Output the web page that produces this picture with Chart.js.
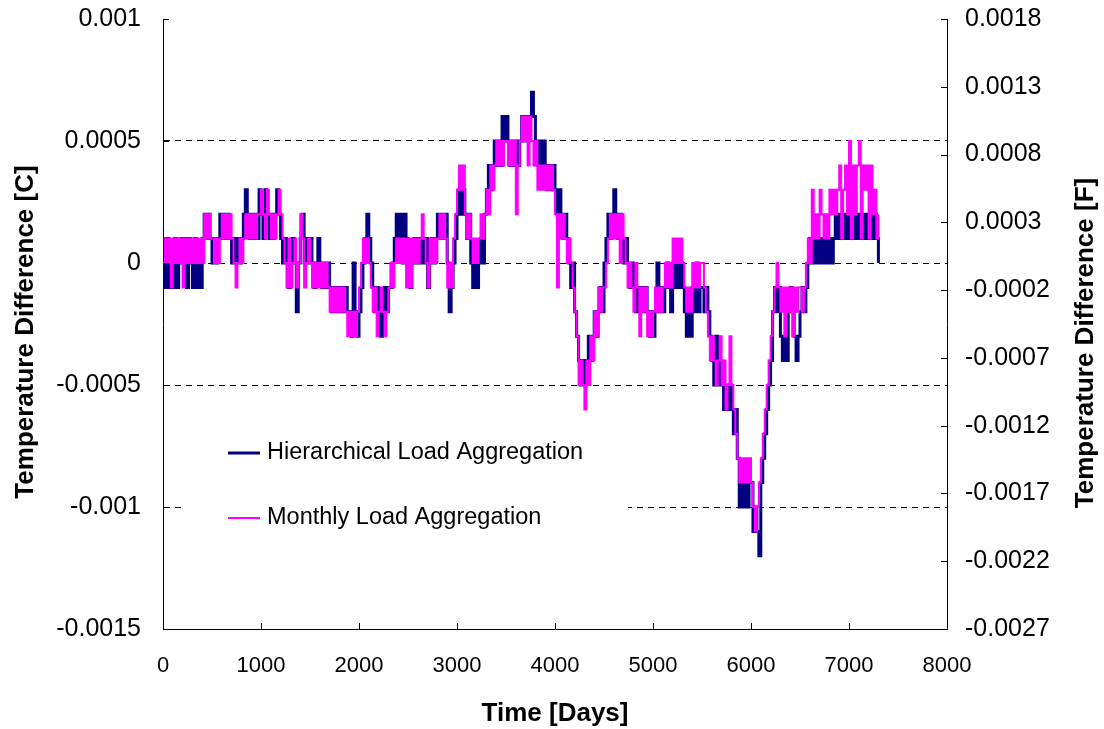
<!DOCTYPE html>
<html>
<head>
<meta charset="utf-8">
<title>Temperature Difference</title>
<script src="https://cdn.jsdelivr.net/npm/chart.js@4.4.0/dist/chart.umd.min.js"></script>
<style>
  body { margin: 0; background: #fff; }
  #wrap { width: 1104px; height: 729px; }
</style>
</head>
<body>
<div id="wrap"><canvas id="myChart" width="1104" height="729"></canvas></div>
<script>
var STEP_DAYS = 20;   // one reading every 20 days
var UNIT = 0.0001;    // readings below are in steps of 0.0001 C

// Hierarchical Load Aggregation, days 0..7300
var hlaSteps = [
    1,-1,1,-1,0, -1,1,-1,0,1, 0,1,-1,1,0, -1,1,-1,0,-1, 1,2,1,2,1,
    0,1,0,1,2, 1,2,1,2,1, 0,1,0,1,0, 1,2,3,2,1, 2,1,2,1,3,
    2,1,3,2,1, 2,1,2,3,2, 1,0,1,0,-1, 0,1,0,-2,0, 1,2,0,1,0,
    1,0,-1,0,1, 0,-1,0,-1,0, -1,-2,-1,-2,-1, -2,-1,-2,-1,-2, -2,-3,0,-2,-3,
    -2,-1,0,1,2, 1,0,-1,-2,-1, -2,-3,-2,-1,-2, -1,-1,0,1,2, 1,2,0,2,1,
    0,-1,0,1,0, 1,0,1,0,1, -1,0,1,0,1, 2,1,2,1,2, 0,-2,-1,0,1,
    2,3,2,3,2, 1,2,0,-1,0, -1,0,1,0,2, 3,4,3,4,5, 4,5,4,6,5,
    6,5,4,5,4, 5,4,5,6,5, 6,5,6,7,6, 5,4,5,4,5, 4,3,4,3,4,
    3,2,3,2,1, 2,1,0,-1,0, -2,-3,-4,-5,-4, -5,-4,-3,-4,-3, -2,-3,-2,-1,-2,
    0,1,2,1,2, 3,2,1,2,1, 0,1,0,-1,0, -1,-2,-1,-2,-1, -2,-1,-2,-3,-2,
    -3,-2,0,-2,-1, -2,-1,0,-1,-2, 0,-1,0,-1,0, -1,-2,-3,-2,-3, -1,-2,0,-2,-1,
    -1,-2,-1,-2,-3, -4,-5,-3,-5,-4, -5,-6,-5,-6,-5, -6,-7,-6,-8,-10, -9,-10,-9,-10,-9,
    -9,-11,-10,-11,-12, -9,-8,-7,-6,-5, -4,-2,-1,-2,-1, -3,-4,-3,-4,-2, -1,-2,-3,-4,-3,
    -2,-1,-2,-1,0, 1,0,1,0,1, 0,1,0,1,0, 1,0,1,2,1, 2,1,2,1,2,
    1,2,1,2,1, 2,1,2,1,2, 1,2,1,2,1, 0
];

// Monthly Load Aggregation, days 0..7300
var mlaSteps = [
    0,1,0,1,-1, 1,0,1,0,1, -1,1,0,1,0, 1,0,1,0,1, 0,2,1,2,1,
    1,0,1,0,1, 2,1,2,1,2, 1,0,-1,0,1, 0,1,2,1,2, 1,2,1,2,2,
    3,2,1,3,2, 1,2,1,2,3, 2,1,0,-1,1, -1,0,1,-1,0, 2,1,-1,0,1,
    0,-1,0,-1,0, -1,0,-1,0,-1, -2,-1,-2,-1,-2, -1,-2,-1,-2,-3, -2,-3,-2,-3,-2,
    -1,0,1,0,1, 0,-1,-2,-1,-3, -2,-1,-2,-3,-2, -1,0,-1,0,1, 0,1,0,1,-1,
    1,-1,1,0,1, 0,1,2,1,0, -1,1,0,1,0, 1,2,1,2,1, -1,0,-1,1,2,
    3,4,3,4,2, 1,2,1,0,1, 0,1,2,1,2, 3,2,4,3,4, 5,4,5,4,5,
    5,4,5,4,5, 2,4,5,6,5, 6,4,6,5,4, 5,3,4,3,4, 3,4,3,4,3,
    2,-1,2,1,2, 1,0,1,0,-1, -2,-3,-5,-4,-5, -6,-4,-5,-3,-4, -2,-3,-1,-2,-1,
    -1,0,1,2,1, 2,1,2,0,2, 1,0,-1,0,-1, -2,0,-1,-3,-1, -2,-1,-3,-2,-3,
    -2,-1,-2,-1,-2, -1,0,-1,0,-1, 1,0,1,0,1, 0,-1,-2,-1,-2, 0,-1,0,-1,0,
    0,-1,-2,-3,-4, -3,-4,-5,-4,-3, -5,-4,-6,-5,-3, -5,-6,-7,-8,-9, -8,-9,-8,-9,-8,
    -9,-10,-11,-10,-9, -8,-7,-6,-5,-4, -3,-2,-1,0,-1, -2,-1,-3,-1,-2, -1,-3,-1,-2,-1,
    -1,-2,-1,0,1, 0,3,1,2,1, 3,2,1,2,1, 3,2,3,2,3, 4,1,3,4,2,
    5,1,4,2,4, 5,1,4,3,4, 1,4,2,3,1, 2
];

var leftTicks = [0.001, 0.0005, 0, -0.0005, -0.001, -0.0015];
var rightTicks = [0.0018, 0.0013, 0.0008, 0.0003, -0.0002, -0.0007, -0.0012, -0.0017, -0.0022, -0.0027];
var xTicks = [0, 1000, 2000, 3000, 4000, 5000, 6000, 7000, 8000];

var seriesNames = ['Hierarchical Load Aggregation', 'Monthly Load Aggregation'];
var seriesColors = ['#000080', '#FF00FF'];

var FONT = "'Liberation Sans', Arial, sans-serif";

function toPoints(steps) {
    return steps.map(function (v, i) {
        return { x: i * STEP_DAYS, y: v * UNIT };
    });
}

// fixed box sizes so the plot area lands where the original has it
function fixWidth(w) {
    return function (scale) {
        scale.width = w;
        scale.paddingTop = 0;
        scale.paddingBottom = 0;
    };
}

// inward ticks, legend and axis titles
var framePlugin = {
    id: 'frame',
    beforeDatasetsDraw: function (chart) {
        var ctx = chart.ctx;
        ctx.save();
        ctx.fillStyle = '#ffffff';
        ctx.fillRect(185, 415, 443, 130);
        ctx.restore();
    },
    afterDraw: function (chart) {
        var ctx = chart.ctx;
        var area = chart.chartArea;
        var sy = chart.scales.y, sy2 = chart.scales.y2, sx = chart.scales.x;
        ctx.save();
        ctx.strokeStyle = '#000';
        ctx.lineWidth = 1;
        ctx.beginPath();
        leftTicks.forEach(function (v) {
            var p = Math.round(sy.getPixelForValue(v)) + 0.5;
            ctx.moveTo(area.left, p); ctx.lineTo(area.left + 6, p);
        });
        rightTicks.forEach(function (v) {
            var p = Math.round(sy2.getPixelForValue(v)) + 0.5;
            ctx.moveTo(area.right, p); ctx.lineTo(area.right - 6, p);
        });
        xTicks.forEach(function (v) {
            var p = Math.round(sx.getPixelForValue(v)) + 0.5;
            ctx.moveTo(p, area.bottom); ctx.lineTo(p, area.bottom - 6);
        });
        ctx.stroke();

        // legend
        var lx = 228, ly = [453, 518], widths = [3, 2];
        ctx.font = '23.5px ' + FONT;
        ctx.textAlign = 'left';
        ctx.textBaseline = 'middle';
        for (var i = 0; i < 2; i++) {
            ctx.strokeStyle = seriesColors[i];
            ctx.lineWidth = widths[i];
            ctx.beginPath();
            ctx.moveTo(lx, ly[i]); ctx.lineTo(lx + 32, ly[i]);
            ctx.stroke();
            ctx.fillStyle = '#000';
            ctx.fillText(seriesNames[i], lx + 39, ly[i]);
        }

        // y titles, both read bottom to top
        ctx.font = 'bold 26px ' + FONT;
        ctx.textAlign = 'center';
        ctx.fillStyle = '#000';
        ctx.save();
        ctx.translate(26, 332);
        ctx.rotate(-Math.PI / 2);
        ctx.fillText('Temperature Difference [C]', 0, 0);
        ctx.restore();
        ctx.save();
        ctx.translate(1086, 343);
        ctx.rotate(-Math.PI / 2);
        ctx.fillText('Temperature Difference [F]', 0, 0);
        ctx.restore();
        ctx.restore();
    }
};

var ctx = document.getElementById('myChart').getContext('2d');

var myChart = new Chart(ctx, {
    type: 'line',
    data: {
        datasets: [{
            label: seriesNames[0],
            data: toPoints(hlaSteps),
            borderColor: seriesColors[0],
            borderWidth: 3,
            pointRadius: 0,
            stepped: true,
            order: 2
        }, {
            label: seriesNames[1],
            data: toPoints(mlaSteps),
            borderColor: seriesColors[1],
            borderWidth: 2,
            pointRadius: 0,
            stepped: true,
            order: 1
        }]
    },
    options: {
        responsive: false,
        animation: false,
        layout: { autoPadding: false, padding: { top: 19, left: 0, right: 0, bottom: 0 } },
        plugins: {
            legend: { display: false },
            tooltip: { enabled: false }
        },
        scales: {
            x: {
                type: 'linear',
                min: 0,
                max: 8000,
                afterBuildTicks: function (scale) {
                    scale.ticks = xTicks.map(function (v) { return { value: v }; });
                },
                afterFit: function (scale) {
                    scale.height = 100;
                    scale.paddingLeft = 0;
                    scale.paddingRight = 0;
                },
                ticks: {
                    padding: 24,
                    color: '#000',
                    maxRotation: 0,
                    font: { family: FONT, size: 22 },
                    callback: function (v) { return String(v); }
                },
                grid: { display: false, drawTicks: false },
                border: { display: true, color: '#000', width: 1 },
                title: {
                    display: true,
                    text: 'Time [Days]',
                    color: '#000',
                    font: { family: FONT, size: 26, weight: 'bold' },
                    padding: { top: 0, bottom: 0 }
                }
            },
            y: {
                position: 'left',
                min: -0.0015,
                max: 0.001,
                afterBuildTicks: function (scale) {
                    scale.ticks = leftTicks.map(function (v) { return { value: v }; });
                },
                afterFit: fixWidth(163),
                ticks: {
                    padding: 22,
                    color: '#000',
                    font: { family: FONT, size: 25 },
                    callback: function (v) { return String(v); }
                },
                grid: {
                    drawTicks: false,
                    color: function (c) {
                        return (c.index === 0 || c.index === leftTicks.length - 1) ? 'rgba(0,0,0,0)' : '#000';
                    },
                    lineWidth: 1
                },
                border: { display: true, color: '#000', width: 1, dash: [6, 5] }
            },
            y2: {
                position: 'right',
                min: -0.0027,
                max: 0.0018,
                afterBuildTicks: function (scale) {
                    scale.ticks = rightTicks.map(function (v) { return { value: v }; });
                },
                afterFit: fixWidth(157),
                ticks: {
                    padding: 18,
                    color: '#000',
                    font: { family: FONT, size: 25 },
                    callback: function (v) { return String(v); }
                },
                grid: { display: false, drawTicks: false },
                border: { display: true, color: '#000', width: 1 }
            }
        }
    },
    plugins: [framePlugin]
});
</script>
</body>
</html>
